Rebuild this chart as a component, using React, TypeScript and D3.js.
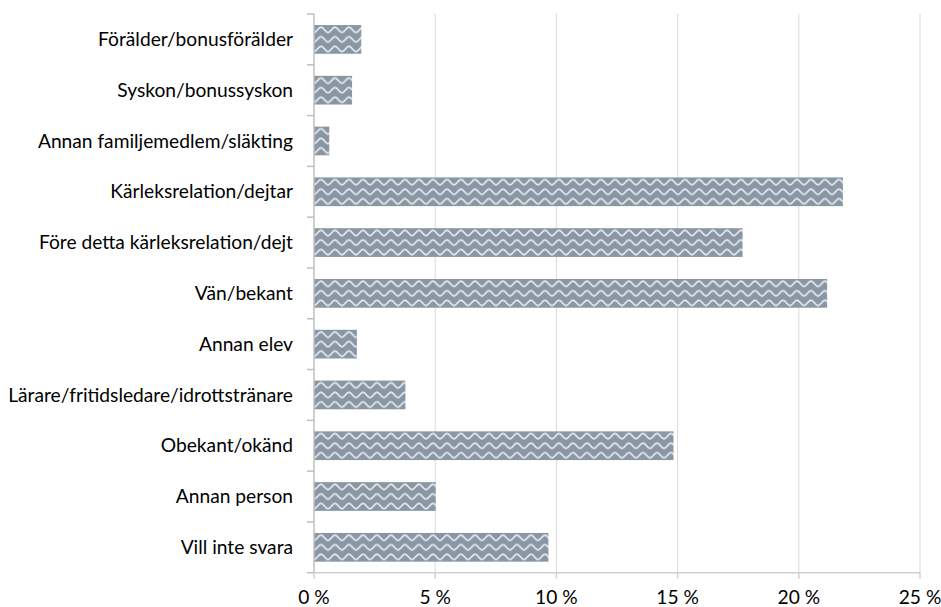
import React from "react";
import * as d3 from "d3";

const categories = [
  "Förälder/bonusförälder",
  "Syskon/bonussyskon",
  "Annan familjemedlem/släkting",
  "Kärleksrelation/dejtar",
  "Före detta kärleksrelation/dejt",
  "Vän/bekant",
  "Annan elev",
  "Lärare/fritidsledare/idrottstränare",
  "Obekant/okänd",
  "Annan person",
  "Vill inte svara",
];
const values = [1.95, 1.57, 0.63, 21.82, 17.68, 21.17, 1.77, 3.77, 14.83, 5.02, 9.67];
const xTicks = [0, 5, 10, 15, 20, 25];

const W = 941;
const H = 607;
const X0 = 314;
const X1 = 920;
const Y0 = 14;
const Y1 = 572.7;
const FONT = "Lato, 'Open Sans', sans-serif";
const FS = 19.2;

export default function App() {
  const x = d3.scaleLinear().domain([0, 25]).range([X0, X1]);
  const y = d3
    .scaleBand<string>()
    .domain(categories)
    .range([Y0, Y1])
    .paddingInner(0.435)
    .paddingOuter(0.2175);
  const bw = y.bandwidth();
  const step = y.step();
  const boundaries = d3.range(categories.length + 1).map((i) => Y0 + i * step);
  const pw = 14;
  const ph = bw / 3;
  const m = ph / 2;
  const a = 2.6;
  const wave = `M0 ${m + a} C ${pw * 0.2} ${m + a}, ${pw * 0.3} ${m - a}, ${pw / 2} ${m - a} S ${pw * 0.8} ${m + a}, ${pw} ${m + a}`;

  return (
    <svg
      width={W}
      height={H}
      style={{ position: "absolute", left: 0, top: 0, background: "#fff" }}
    >
      <defs>
        {categories.map((c, i) => (
          <pattern
            key={c}
            id={`wave-${i}`}
            patternUnits="userSpaceOnUse"
            x={X0}
            y={y(c)!}
            width={pw}
            height={ph}
          >
            <rect width={pw} height={ph} fill="#8996a3" />
            <path d={wave} fill="none" stroke="#e2e6ea" strokeWidth={1.9} />
          </pattern>
        ))}
      </defs>
      {xTicks.slice(1).map((t) => (
        <line key={t} x1={x(t)} x2={x(t)} y1={Y0} y2={Y1} stroke="#d9d9d9" strokeWidth={1} />
      ))}
      {categories.map((c, i) => (
        <rect
          key={c}
          x={x(0)}
          y={y(c)!}
          width={x(values[i]) - x(0)}
          height={bw}
          fill={`url(#wave-${i})`}
        />
      ))}
      <line x1={X0} x2={X0} y1={Y0} y2={Y1} stroke="#bfbfbf" strokeWidth={1.5} />
      {boundaries.map((b, i) => (
        <line key={i} x1={X0 - 7} x2={X0} y1={b} y2={b} stroke="#bfbfbf" strokeWidth={1.5} />
      ))}
      <line x1={X0} x2={X1} y1={Y1} y2={Y1} stroke="#d0d0d0" strokeWidth={1.5} />
      {xTicks.map((t) => (
        <line key={t} x1={x(t)} x2={x(t)} y1={Y1} y2={Y1 + 6} stroke="#d0d0d0" strokeWidth={1.5} />
      ))}
      {categories.map((c) => (
        <text
          key={c}
          x={X0 - 21}
          y={y(c)! + bw / 2}
          dy="0.35em"
          textAnchor="end"
          fontFamily={FONT}
          fontSize={FS}
          fill="#000"
        >
          {c}
        </text>
      ))}
      {xTicks.map((t) => (
        <text
          key={t}
          x={x(t)}
          y={604}
          textAnchor="middle"
          fontFamily={FONT}
          fontSize={FS}
          fill="#000"
        >
          {`${t} %`}
        </text>
      ))}
    </svg>
  );
}
